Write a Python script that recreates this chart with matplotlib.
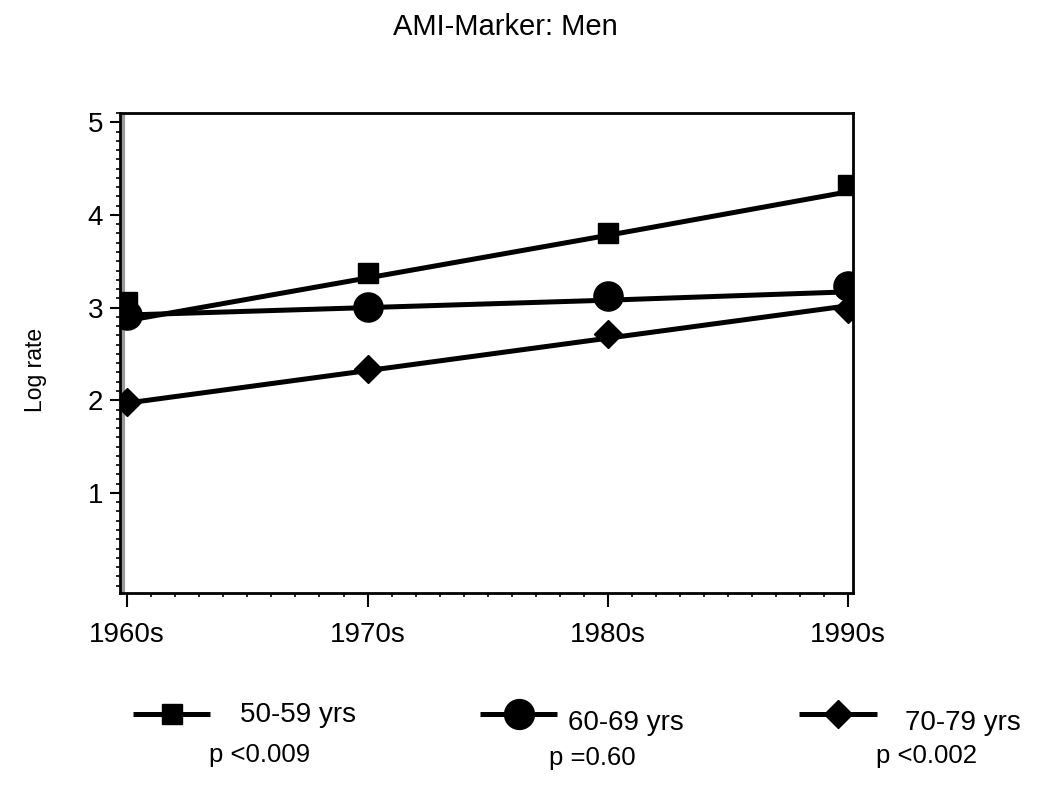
import matplotlib
matplotlib.use('Agg')
import matplotlib.pyplot as plt
from matplotlib.ticker import MultipleLocator

plt.rcParams['font.family'] = ['Liberation Sans', 'DejaVu Sans']

# ── data ──────────────────────────────────────────────────
decades = ['1960s', '1970s', '1980s', '1990s']
groups = ['50-59 yrs', '60-69 yrs', '70-79 yrs']
p_values = ['p <0.009', 'p =0.60', 'p <0.002']

# observed log rates (markers)
obs_50 = [3.06, 3.37, 3.80, 4.32]
obs_60 = [2.92, 3.01, 3.13, 3.23]
obs_70 = [1.98, 2.34, 2.71, 2.99]

# fitted trend lines (values at each decade)
fit_50 = [2.86, 3.32, 3.78, 4.25]
fit_60 = [2.92, 3.00, 3.08, 3.17]
fit_70 = [1.97, 2.32, 2.67, 3.02]

markers = ['s', 'o', 'D']
obs_ms = [14, 21, 14]          # marker size in the plot
leg_ms = [14.5, 21.5, 14.5]    # marker size in the legend

W, H = 1050, 788
fig = plt.figure(figsize=(W / 100, H / 100), dpi=100)
ax = fig.add_axes([120 / W, 1 - 593 / H, (853 - 120) / W, (593 - 113) / H])

x = list(range(len(decades)))
for obs, fit, m, ms in zip([obs_50, obs_60, obs_70], [fit_50, fit_60, fit_70],
                           markers, obs_ms):
    ax.plot(x, fit, color='black', lw=3.6, solid_capstyle='butt', zorder=3)
    ax.plot(x, obs, linestyle='none', marker=m, ms=ms, color='black', zorder=4)

ax.set_xlim(-0.03, 3.02)
ax.set_ylim(-0.08, 5.1)
ax.set_xticks(x)
ax.set_xticklabels(decades, fontsize=20)
ax.set_yticks([1, 2, 3, 4, 5])
ax.tick_params(axis='y', labelsize=20, length=7, width=1.5, pad=5)
ax.tick_params(axis='x', length=10, width=1.5, pad=11)
ax.yaxis.set_minor_locator(MultipleLocator(0.1))
ax.xaxis.set_minor_locator(MultipleLocator(0.1))
ax.tick_params(which='minor', length=3, width=1.2)
for s in ax.spines.values():
    s.set_linewidth(2)
# grey shadow along the left spine
xl = ax.get_xlim()
ax.axvline(xl[0] + 0.012, color='#9a9a9a', lw=3, zorder=1)

ax.set_ylabel('Log rate', fontsize=16.5)
ax.yaxis.set_label_coords(-0.100, 0.465)

fig.text(505 / W, 1 - 27 / H, 'AMI-Marker: Men', ha='center', va='center',
         fontsize=21)

# ── legend row below the plot (drawn on a pixel-space overlay) ──
lax = fig.add_axes([0, 0, 1, 1], zorder=-1)
lax.set_xlim(0, W)
lax.set_ylim(H, 0)
lax.axis('off')

leg_line = [(133, 210), (480, 557), (799, 877)]
leg_line_y = 714
label_pos = [(240, 715), (568, 723), (905, 723)]
p_pos = [(260, 755), (592, 758), (926, 756)]
for i in range(3):
    x0, x1 = leg_line[i]
    lax.plot([x0, x1], [leg_line_y, leg_line_y], color='black', lw=3.6,
             solid_capstyle='butt')
    lax.plot([(x0 + x1) / 2], [leg_line_y], marker=markers[i], ms=leg_ms[i],
             color='black', linestyle='none')
    lax.text(label_pos[i][0], label_pos[i][1], groups[i], ha='left',
             va='center', fontsize=20)
    lax.text(p_pos[i][0], p_pos[i][1], p_values[i], ha='center',
             va='center', fontsize=18.5)

fig.savefig('out.png', dpi=100)
